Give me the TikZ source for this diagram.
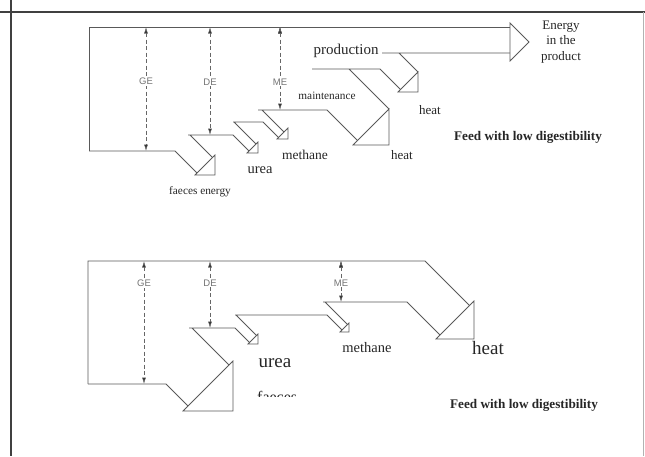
\documentclass[tikz,border=0pt]{standalone}
\usepackage{fontspec}
\setmainfont{Liberation Serif}
\setsansfont{Liberation Sans}
\usepackage{tikz}
\usetikzlibrary{positioning, calc}
\usetikzlibrary{arrows.meta}
\tikzstyle{framerule}=[draw=black!75, line width=1.1pt]
\tikzstyle{flowline}=[draw=black!65, line width=0.75pt, line join=miter]
\tikzstyle{gauge}=[{Latex[length=6.5pt,width=4pt,fill=black!85]}-{Latex[length=6.5pt,width=4pt,fill=black!85]}, draw=black!60, line width=0.6pt, dash pattern=on 4pt off 2.5pt]
\tikzstyle{gaugelabel}=[fill=white, inner sep=1pt, text=black!55, font=\sffamily\fontsize{9.5}{9.5}\selectfont]
\tikzstyle{losstext}=[inner sep=0pt, text=black!85]

\begin{document}
\begin{tikzpicture}[x=1pt, y=-1pt]
    \useasboundingbox (0,0) rectangle (645,456);
    \draw[framerule] (0,12) -- (645,12);
    \draw[framerule] (11,0) -- (11,456);
    \draw[framerule, draw=black!30, line width=0.5pt] (643.5,12) -- (643.5,456);

    % upper flow chart
    \draw[flowline] (89,151) -- (89,27) -- (510,27);
    \draw[flowline] (510,23) -- (529,42) -- (510,61) -- cycle;
    \draw[flowline] (382,53) -- (510,53) (399,53) -- (418,72);
    \draw[flowline] (398,92) -- (418,72) -- (418,92) -- cycle;
    \draw[flowline] (312,69) -- (380,69) -- (400.5,89.5) (349,69) -- (389,109);
    \draw[flowline] (353,145) -- (389,109) -- (389,145) -- cycle;
    \draw[flowline] (258,110) -- (327,110) -- (357.5,140.5) (262,110) -- (284,132);
    \draw[flowline] (277,139) -- (288,128) -- (288,139) -- cycle;
    \draw[flowline] (233,122) -- (263,122) -- (278.5,137.5) (234,122) -- (256,144);
    \draw[flowline] (247,153) -- (258,142) -- (258,153) -- cycle;
    \draw[flowline] (188,135) -- (233,135) -- (249,151) (190,135) -- (212.5,157.5);
    \draw[flowline] (195,175) -- (215,155) -- (215,175) -- cycle;
    \draw[flowline] (89,151) -- (175,151) -- (197,173);

    \coordinate (ge1) at (146,27);
    \coordinate (ge2) at (146,151);
    \coordinate (de1) at (210,27);
    \coordinate (de2) at (210,135);
    \coordinate (me1) at (280,27);
    \coordinate (me2) at (280,110);
    \path[gauge]
        (ge1) edge node[gaugelabel, pos=0.44] {GE} (ge2)
        (de1) edge node[gaugelabel, pos=0.51] {DE} (de2)
        (me1) edge node[gaugelabel, pos=0.66] {ME} (me2);

    \node[losstext, align=center, font=\fontsize{13}{15.5}\selectfont] (product) at (561,42) {Energy\\in the\\product};
    \node[losstext, font=\fontsize{15}{15}\selectfont] (production) at (346,51) {production};
    \node[losstext, font=\fontsize{11.3}{12}\selectfont] (maintenance) at (327,96) {maintenance};
    \node[losstext, font=\fontsize{13}{13}\selectfont] (heatprod) at (430,110) {heat};
    \node[losstext, font=\fontsize{13}{13}\selectfont] (heatmaint) at (402,155) {heat};
    \node[losstext, font=\fontsize{13.5}{13.5}\selectfont] (methane) at (305,155) {methane};
    \node[losstext, font=\fontsize{14.5}{14.5}\selectfont] (urea) at (260,170) {urea};
    \node[losstext, font=\fontsize{11.3}{12}\selectfont] (faeces) at (200,192) {faeces energy};
    \node[losstext, font=\bfseries\fontsize{13.2}{14}\selectfont] (feed) at (528,137) {Feed with low digestibility};

    % lower flow chart
    \draw[flowline] (88,384) -- (88,261) -- (425,261) -- (469.5,305.5);
    \draw[flowline] (436,339) -- (474,301) -- (474,339) -- cycle;
    \draw[flowline] (323,302) -- (407,302) -- (440,335) (325,302) -- (347.5,324.5);
    \draw[flowline] (340,332) -- (349,323) -- (349,332) -- cycle;
    \draw[flowline] (235,315) -- (327,315) -- (342,330) (236,315) -- (256.5,335.5);
    \draw[flowline] (248,344) -- (258,334) -- (258,344) -- cycle;
    \draw[flowline] (189,328) -- (235,328) -- (249.5,342.5) (192,328) -- (229,365);
    \draw[flowline] (183,411) -- (233,361) -- (233,411) -- cycle;
    \draw[flowline] (88,384) -- (166,384) -- (188,406);

    \coordinate (lge1) at (144,261);
    \coordinate (lge2) at (144,384);
    \coordinate (lde1) at (210,261);
    \coordinate (lde2) at (210,328);
    \coordinate (lme1) at (341,261);
    \coordinate (lme2) at (341,302);
    \path[gauge]
        (lge1) edge node[gaugelabel, pos=0.18] {GE} (lge2)
        (lde1) edge node[gaugelabel, pos=0.33] {DE} (lde2)
        (lme1) edge node[gaugelabel, pos=0.54] {ME} (lme2);

    \node[losstext, font=\fontsize{19}{19}\selectfont] (lurea) at (275,363) {urea};
    \begin{scope}
        \clip (240,380) rectangle (320,396);
        \node[losstext, anchor=base west, font=\fontsize{16}{16}\selectfont] (lfaeces) at (257,402) {faeces};
    \end{scope}
    \node[losstext, font=\fontsize{14.5}{14.5}\selectfont] (lmethane) at (367,348) {methane};
    \node[losstext, font=\fontsize{19}{19}\selectfont] (lheat) at (488,348) {heat};
    \node[losstext, font=\bfseries\fontsize{13.2}{14}\selectfont] (lfeed) at (524,405) {Feed with low digestibility};
\end{tikzpicture}
\end{document}
